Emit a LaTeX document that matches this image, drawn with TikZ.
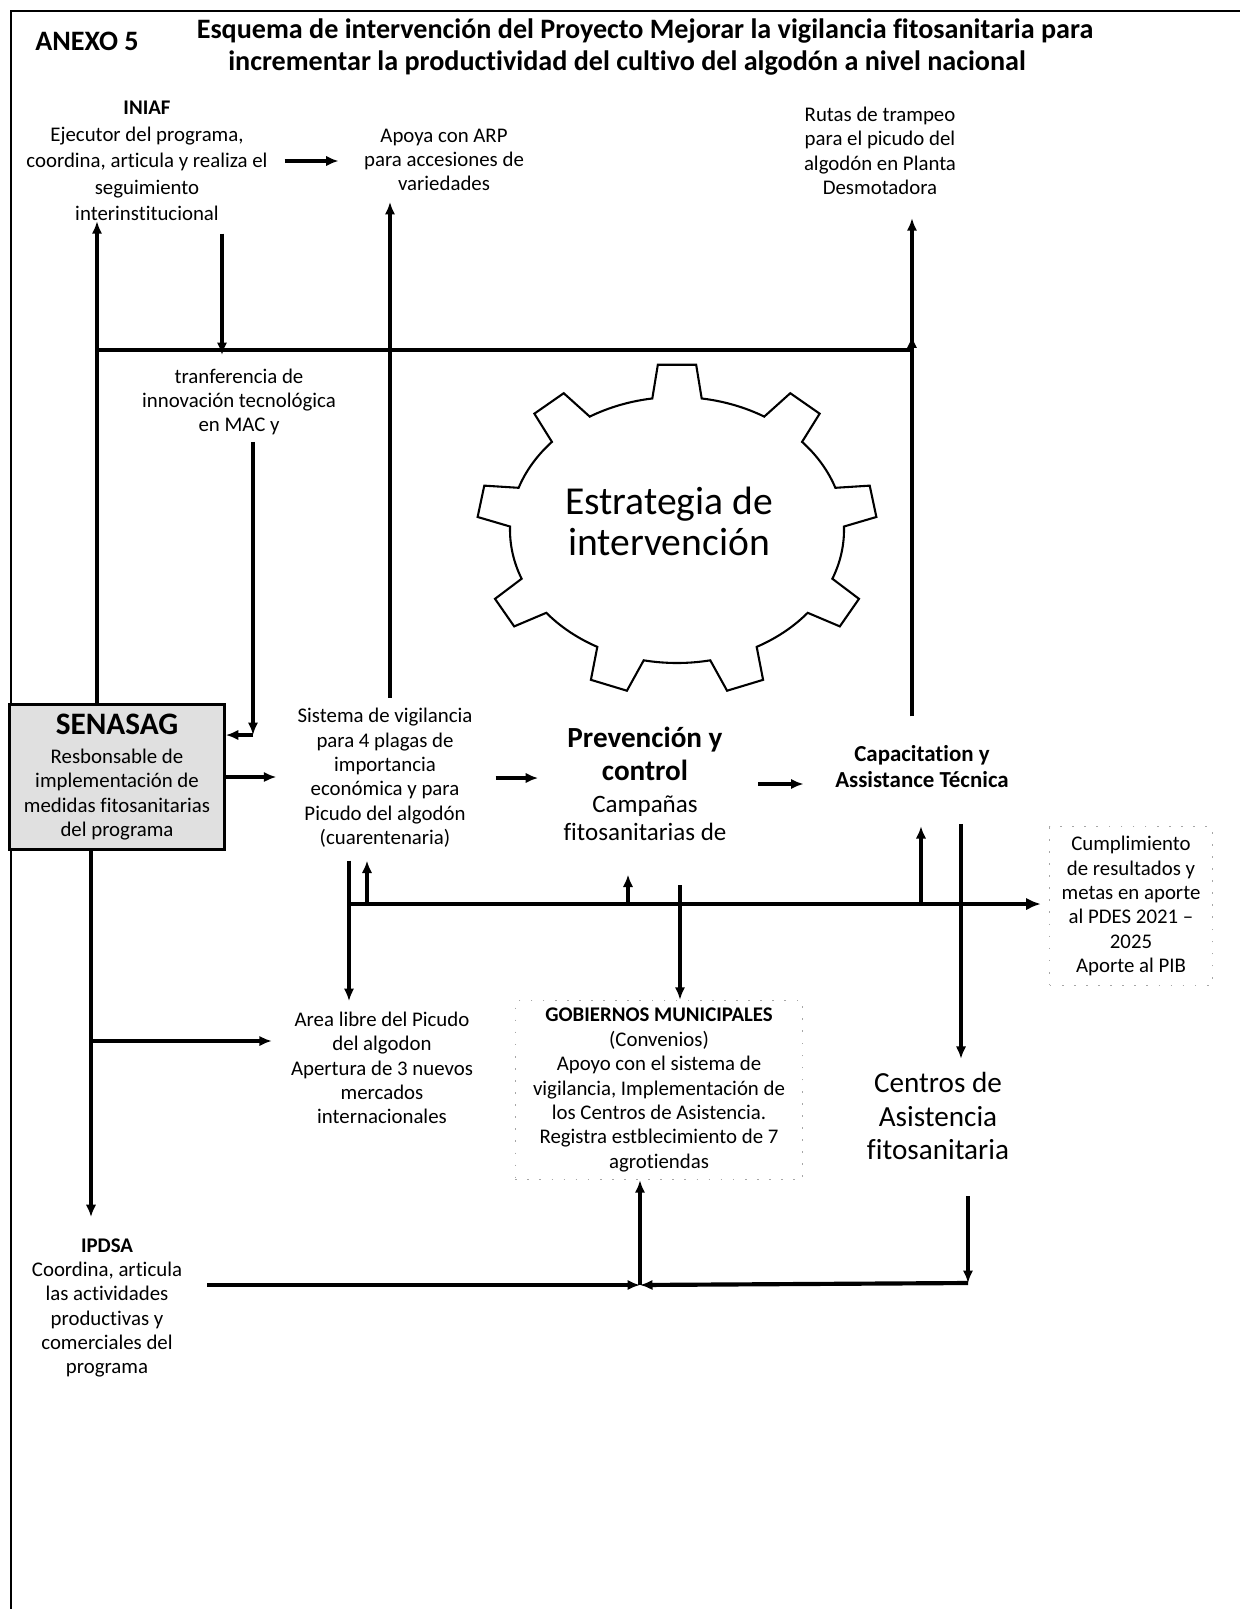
\documentclass[tikz,border=0pt]{standalone}
\usepackage{fontspec}
\setmainfont{Carlito}[Ligatures={TeX,NoCommon}]
\usetikzlibrary{arrows.meta}

\begin{document}
\begin{tikzpicture}[
  x=0.48pt,
  y=-0.48pt,
  txt/.style={align=center, inner sep=0pt, font=\fontsize{10}{11.7}\selectfont},
  head/.style={inner sep=0pt, font=\fontsize{13.5}{16}\selectfont\bfseries},
  arr/.style={line width=1.6pt, -{Latex[length=6pt,width=5pt]}},
  mainbar/.style={line width=2.2pt, -{Latex[length=7pt,width=6pt]}},
  rim/.style={line width=1.4pt},
  gearline/.style={line width=1pt, line join=miter},
  senbox/.style={txt, draw, line width=1.4pt, fill=black!12, minimum width=103pt, minimum height=70pt},
  dotbox/.style={txt, draw=black!35, dash pattern=on 0.8pt off 5pt, line width=0.6pt}
]
  \useasboundingbox (0,0) rectangle (1240,1609);
  \draw[rim] (11,1609) -- (11,11) -- (1240,11);

  \node[head] (anexo) at (87,41) {ANEXO 5};
  \node[head] (title1) at (645,31) {Esquema de intervención del Proyecto Mejorar la vigilancia fitosanitaria para};
  \node[head] (title2) at (627,63) {incrementar la productividad del cultivo del algodón a nivel nacional};

  \node[txt, font=\fontsize{10}{12.7}\selectfont] (iniaf) at (147,161) {\textbf{INIAF}\\Ejecutor del programa,\\coordina, articula y realiza el\\seguimiento\\interinstitucional};
  \node[txt] (apoya) at (444,160) {Apoya con ARP\\para accesiones de\\variedades};
  \node[txt] (rutas) at (880,151) {Rutas de trampeo\\para el picudo del\\algodón en Planta\\Desmotadora};
  \node[txt] (tranf) at (239,402) {tranferencia de\\innovación tecnológica\\en MAC y};

  \begin{scope}[shift={(677,530)}, yscale=-1]
    \draw[gearline] (81.5:167 and 133)
      \foreach \c in {90,130,...,410} {
        -- ({\c-8.5}:167 and 133) -- ({\c-5.5}:200 and 166)
        -- ({\c+5.5}:200 and 166) -- ({\c+8.5}:167 and 133)
        arc[start angle=\c+8.5, end angle=\c+31.5, x radius=167, y radius=133]
      } -- cycle;
  \end{scope}
  \node[txt, font=\fontsize{19}{19.7}\selectfont] (estrat) at (669,521) {Estrategia de\\intervención};

  \node[senbox] (senasag) at (117,777) {{\fontsize{15}{15}\selectfont\bfseries SENASAG}\\[2.2pt]Resbonsable de\\implementación de\\medidas fitosanitarias\\del programa};
  \node[txt] (sistema) at (385,778) {Sistema de vigilancia\\para 4 plagas de\\importancia\\económica y para\\Picudo del algodón\\(cuarentenaria)};
  \node[txt, font=\fontsize{12}{15.6}\selectfont] (prev) at (645,784) {{\fontsize{14}{16}\selectfont\bfseries Prevención y}\\{\fontsize{14}{16}\selectfont\bfseries control}\\Campañas\\[-2.2pt]fitosanitarias de};
  \node[txt, font=\fontsize{11}{12.5}\selectfont\bfseries] (capac) at (922,767) {Capacitation y\\Assistance Técnica};
  \node[dotbox, minimum width=78pt, minimum height=76pt] (cumpl) at (1131,906) {Cumplimiento\\de resultados y\\metas en aporte\\al PDES 2021 –\\2025\\Aporte al PIB};

  \node[txt] (areal) at (382,1068) {Area libre del Picudo\\del algodon\\Apertura de 3 nuevos\\mercados\\internacionales};
  \node[dotbox, minimum width=138pt, minimum height=86pt] (gob) at (659,1090) {\textbf{GOBIERNOS MUNICIPALES}\\(Convenios)\\Apoyo con el sistema de\\vigilancia, Implementación de\\los Centros de Asistencia.\\Registra estblecimiento de 7\\agrotiendas};
  \node[txt, font=\fontsize{14}{16.3}\selectfont] (centros) at (938,1116) {Centros de\\Asistencia\\fitosanitaria};
  \node[txt] (ipdsa) at (107,1308) {\textbf{IPDSA}\\Coordina, articula\\las actividades\\productivas y\\comerciales del\\programa};

  \coordinate (jL) at (97,350);
  \coordinate (jT) at (222,355);
  \coordinate (jR) at (912,350);
  \coordinate (vA) at (390,696);
  \coordinate (kM) at (253,735);
  \coordinate (hL) at (349,904);
  \coordinate (u1) at (367,904);
  \coordinate (u2) at (628,904);
  \coordinate (d1) at (680,885);
  \coordinate (u3) at (921,904);
  \coordinate (d2) at (961,826);
  \coordinate (m1) at (91,1041);
  \coordinate (jG) at (640,1285);
  \coordinate (jC) at (968,1283);

  \draw[arr, shorten <=8pt, shorten >=12pt] (iniaf.east) -- (iniaf.east -| apoya.west);
  \draw[arr] (senasag.north -| jL) -- (iniaf.south -| jL);
  \draw[arr, shorten <=6pt] (iniaf.south -| jT) -- (jT);
  \draw[arr] (jL) -| ([yshift=7pt]jR);
  \draw[arr, shorten <=14pt, shorten >=11pt] (capac.north -| jR) -- (rutas.south -| jR);
  \draw[arr, shorten <=5pt, shorten >=5pt] (sistema.north -| vA) -- (apoya.south -| vA);
  \draw[arr, shorten <=3pt] (tranf.south -| kM) -- (kM);
  \draw[arr] (kM) -- (kM -| senasag.east);

  \draw[arr, shorten >=10pt] (senasag.east) -- (senasag.east -| sistema.west);
  \draw[arr, shorten <=11pt, shorten >=12pt] (sistema.east) -- (sistema.east -| prev.west);
  \draw[arr, shorten <=15pt, shorten >=15pt] (prev.east) -- (prev.east -| capac.west);

  \draw[mainbar, shorten >=4pt] (hL) -- (hL -| cumpl.west);
  \draw[arr, shorten <=6pt, shorten >=5pt] (sistema.south -| hL) -- (areal.north -| hL);
  \draw[arr, shorten >=6pt] (u1) -- (u1 |- sistema.south);
  \draw[arr, shorten >=16pt] (u2) -- (u2 |- prev.south);
  \draw[arr] (d1) -- (d1 |- gob.north);
  \draw[arr, shorten >=18pt] (u3) -- (u3 |- capac.south);
  \draw[arr, shorten <=17pt, shorten >=6pt] (capac.south -| d2) -- (centros.north -| d2);

  \draw[arr, shorten >=10pt] (senasag.south -| m1) -- (ipdsa.north -| m1);
  \draw[arr, shorten >=9pt] (m1) -- (m1 -| areal.west);
  \draw[arr, line width=2pt, shorten <=12pt] (ipdsa.east |- jG) -- (jG);
  \draw[arr] (jG) -- (jG |- gob.south);
  \draw[arr, shorten <=17pt] (centros.south -| jC) -- (jC);
  \draw[arr, line width=2pt] (jC) -- (jG);
\end{tikzpicture}
\end{document}
